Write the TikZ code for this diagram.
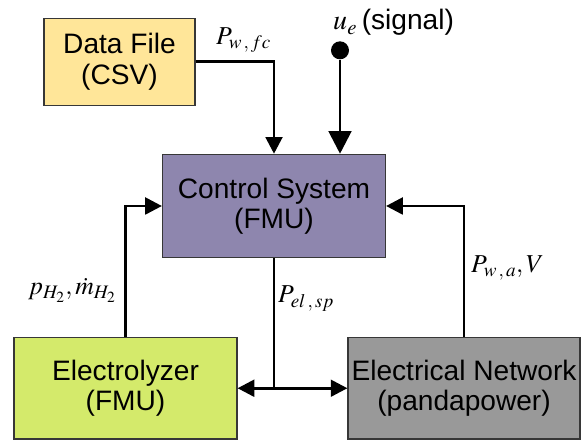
\documentclass[tikz,border=0pt]{standalone}
\usepackage{mathptmx}
\usepackage{fontspec}
\setsansfont{Liberation Sans}
\usetikzlibrary{arrows.meta,calc}
\definecolor{csvyellow}{RGB}{255,230,153}
\definecolor{fmupurple}{RGB}{142,134,174}
\definecolor{elylime}{RGB}{212,234,107}
\definecolor{netgray}{RGB}{153,153,153}
\definecolor{edgegray}{RGB}{55,55,55}

\begin{document}
\begin{tikzpicture}[font=\sffamily\fontsize{24}{26}\selectfont,
  block/.style={draw=edgegray,line width=1pt,align=center,inner sep=0pt},
  flow/.style={line width=2.5pt,-{Triangle[length=0.5cm,width=0.5cm]}},
  flowbig/.style={line width=2.5pt,-{Triangle[length=0.68cm,width=0.68cm]}},
  wire/.style={line width=2.5pt},
  sig/.style={anchor=base west,inner sep=0pt,font=\fontsize{22}{26}\selectfont}]
 \useasboundingbox (0,0) rectangle (17.52,13.29);
 % blocks
 \node[block,fill=csvyellow,minimum width=4.53cm,minimum height=2.61cm] (datafile) at (3.585,11.44) {Data File\\(CSV)};
 \node[block,fill=fmupurple,minimum width=6.69cm,minimum height=3.10cm] (control) at (8.22,7.11) {Control System\\(FMU)};
 \node[block,fill=elylime,minimum width=6.69cm,minimum height=3.045cm] (electrolyzer) at (3.765,1.643) {Electrolyzer\\(FMU)};
 \node[block,fill=netgray,minimum width=6.96cm,minimum height=3.045cm] (network) at (13.92,1.643) {Electrical Network\\(pandapower)};
 % input signal
 \node[circle,fill=black,inner sep=0pt,minimum size=0.54cm] (uin) at (10.2,11.78) {};
 \node[anchor=base west,inner sep=0pt] (uinlabel) at (9.99,12.39) {$u_e$\,(signal)};
 % connectors
 \draw[flow] (datafile.east) -| (control.north);
 \draw[flowbig] (uin) -- (uin |- control.north);
 \draw[flow] (electrolyzer.north) |- (control.west);
 \draw[flow] (network.north) |- (control.east);
 \coordinate (split) at (control.south |- electrolyzer.east);
 \draw[wire] (control.south) -- (split);
 \draw[flow] (split) -- (electrolyzer.east);
 \draw[flow] (split) -- (network.west);
 % signal labels
 \node[sig] (pwfc) at (6.48,11.94) {$P_{w\,,\,fc}$};
 \node[sig] (ph2) at (0.84,4.44) {$p_{H_2},\dot{m}_{H_2}$};
 \node[sig] (pelsp) at (8.34,4.20) {$P_{el\,,\,sp}$};
 \node[sig] (pwa) at (14.13,5.10) {$P_{w\,,\,a},V$};
\end{tikzpicture}
\end{document}
